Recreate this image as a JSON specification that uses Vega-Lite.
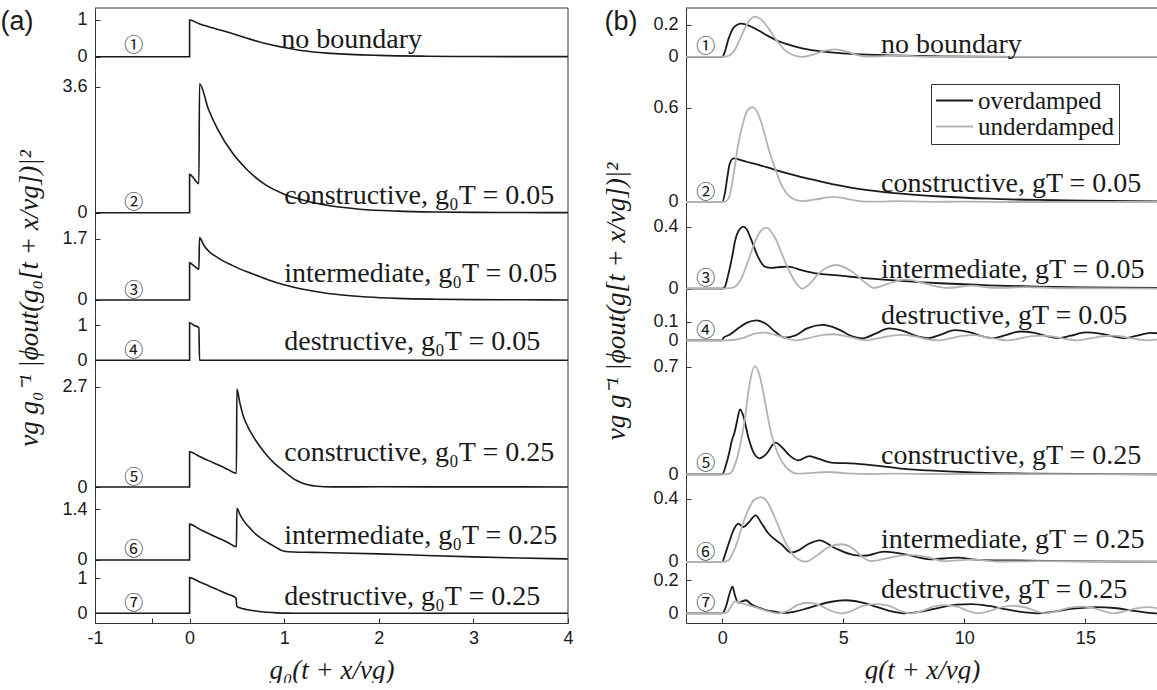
{
  "$schema": "https://vega.github.io/schema/vega-lite/v6.json",
  "background": "white",
  "padding": {"left": 0, "top": 7, "right": 0, "bottom": 0},
  "datasets": {
    "a": [
      {"s":1,"x":-1,"y":0},{"s":1,"x":0,"y":0},{"s":1,"x":0,"y":1},{"s":1,"x":0.1,"y":0.9},{"s":1,"x":0.25,"y":0.78},{"s":1,"x":0.45,"y":0.63},{"s":1,"x":0.6,"y":0.51},{"s":1,"x":0.8,"y":0.36},{"s":1,"x":1,"y":0.25},{"s":1,"x":1.2,"y":0.16},{"s":1,"x":1.5,"y":0.09},{"s":1,"x":2,"y":0.035},{"s":1,"x":2.5,"y":0.013},{"s":1,"x":3,"y":0.005},{"s":1,"x":4,"y":0.001},
      {"s":2,"x":-1,"y":0},{"s":2,"x":0,"y":0},{"s":2,"x":0,"y":1.1},{"s":2,"x":0.05,"y":0.96},{"s":2,"x":0.098,"y":0.83},{"s":2,"x":0.105,"y":3.68},{"s":2,"x":0.2,"y":2.95},{"s":2,"x":0.3,"y":2.37},{"s":2,"x":0.45,"y":1.72},{"s":2,"x":0.6,"y":1.25},{"s":2,"x":0.8,"y":0.8},{"s":2,"x":1,"y":0.53},{"s":2,"x":1.2,"y":0.36},{"s":2,"x":1.5,"y":0.19},{"s":2,"x":1.8,"y":0.1},{"s":2,"x":2.2,"y":0.045},{"s":2,"x":2.6,"y":0.02},{"s":2,"x":3,"y":0.009},{"s":2,"x":3.5,"y":0.004},{"s":2,"x":4,"y":0.002},
      {"s":3,"x":-1,"y":0},{"s":3,"x":0,"y":0},{"s":3,"x":0,"y":1.03},{"s":3,"x":0.05,"y":0.94},{"s":3,"x":0.098,"y":0.85},{"s":3,"x":0.105,"y":1.73},{"s":3,"x":0.15,"y":1.52},{"s":3,"x":0.2,"y":1.36},{"s":3,"x":0.3,"y":1.17},{"s":3,"x":0.45,"y":0.96},{"s":3,"x":0.65,"y":0.74},{"s":3,"x":0.82,"y":0.57},{"s":3,"x":1,"y":0.42},{"s":3,"x":1.17,"y":0.31},{"s":3,"x":1.35,"y":0.23},{"s":3,"x":1.52,"y":0.165},{"s":3,"x":1.875,"y":0.085},{"s":3,"x":2.2,"y":0.045},{"s":3,"x":2.6,"y":0.022},{"s":3,"x":3,"y":0.011},{"s":3,"x":3.5,"y":0.005},{"s":3,"x":4,"y":0.002},
      {"s":4,"x":-1,"y":0},{"s":4,"x":0,"y":0},{"s":4,"x":0,"y":1.08},{"s":4,"x":0.05,"y":1.0},{"s":4,"x":0.098,"y":0.94},{"s":4,"x":0.105,"y":0},{"s":4,"x":4,"y":0},
      {"s":5,"x":-1,"y":0},{"s":5,"x":0,"y":0},{"s":5,"x":0,"y":0.95},{"s":5,"x":0.1,"y":0.83},{"s":5,"x":0.2,"y":0.71},{"s":5,"x":0.3,"y":0.6},{"s":5,"x":0.4,"y":0.48},{"s":5,"x":0.495,"y":0.37},{"s":5,"x":0.5,"y":2.64},{"s":5,"x":0.53,"y":2.28},{"s":5,"x":0.573,"y":1.87},{"s":5,"x":0.62,"y":1.6},{"s":5,"x":0.68,"y":1.33},{"s":5,"x":0.75,"y":1.07},{"s":5,"x":0.82,"y":0.84},{"s":5,"x":0.9,"y":0.63},{"s":5,"x":0.96,"y":0.5},{"s":5,"x":1,"y":0.42},{"s":5,"x":1.05,"y":0.31},{"s":5,"x":1.1,"y":0.22},{"s":5,"x":1.17,"y":0.13},{"s":5,"x":1.25,"y":0.06},{"s":5,"x":1.35,"y":0.02},{"s":5,"x":1.5,"y":0.003},{"s":5,"x":2,"y":0.005},{"s":5,"x":3,"y":0.003},{"s":5,"x":4,"y":0.002},
      {"s":6,"x":-1,"y":0},{"s":6,"x":0,"y":0},{"s":6,"x":0,"y":0.99},{"s":6,"x":0.1,"y":0.86},{"s":6,"x":0.2,"y":0.73},{"s":6,"x":0.3,"y":0.61},{"s":6,"x":0.4,"y":0.49},{"s":6,"x":0.495,"y":0.37},{"s":6,"x":0.5,"y":1.43},{"s":6,"x":0.53,"y":1.27},{"s":6,"x":0.573,"y":1.08},{"s":6,"x":0.62,"y":0.93},{"s":6,"x":0.68,"y":0.76},{"s":6,"x":0.75,"y":0.61},{"s":6,"x":0.82,"y":0.49},{"s":6,"x":0.9,"y":0.37},{"s":6,"x":1,"y":0.24},{"s":6,"x":1.1,"y":0.22},{"s":6,"x":1.3,"y":0.21},{"s":6,"x":1.6,"y":0.195},{"s":6,"x":2,"y":0.17},{"s":6,"x":2.5,"y":0.125},{"s":6,"x":3,"y":0.085},{"s":6,"x":3.5,"y":0.055},{"s":6,"x":4,"y":0.03},
      {"s":7,"x":-1,"y":0},{"s":7,"x":0,"y":0},{"s":7,"x":0,"y":1.02},{"s":7,"x":0.1,"y":0.9},{"s":7,"x":0.2,"y":0.79},{"s":7,"x":0.3,"y":0.67},{"s":7,"x":0.4,"y":0.55},{"s":7,"x":0.49,"y":0.44},{"s":7,"x":0.5,"y":0.2},{"s":7,"x":0.53,"y":0.16},{"s":7,"x":0.6,"y":0.11},{"s":7,"x":0.7,"y":0.065},{"s":7,"x":0.82,"y":0.03},{"s":7,"x":0.92,"y":0.012},{"s":7,"x":1,"y":0.004},{"s":7,"x":1.2,"y":0},{"s":7,"x":4,"y":0}
    ],
    "b": [
      {"s":1,"c":"overdamped","x":-1.5,"y":0},{"s":1,"c":"overdamped","x":0,"y":0},{"s":1,"c":"overdamped","x":0.1,"y":0.03},{"s":1,"c":"overdamped","x":0.25,"y":0.11},{"s":1,"c":"overdamped","x":0.45,"y":0.18},{"s":1,"c":"overdamped","x":0.6,"y":0.2},{"s":1,"c":"overdamped","x":0.8,"y":0.208},{"s":1,"c":"overdamped","x":1.1,"y":0.196},{"s":1,"c":"overdamped","x":1.5,"y":0.165},{"s":1,"c":"overdamped","x":1.9,"y":0.13},{"s":1,"c":"overdamped","x":2.3,"y":0.1},{"s":1,"c":"overdamped","x":2.8,"y":0.074},{"s":1,"c":"overdamped","x":3.3,"y":0.054},{"s":1,"c":"overdamped","x":4,"y":0.037},{"s":1,"c":"overdamped","x":4.6,"y":0.027},{"s":1,"c":"overdamped","x":5.5,"y":0.018},{"s":1,"c":"overdamped","x":7,"y":0.01},{"s":1,"c":"overdamped","x":9,"y":0.004},{"s":1,"c":"overdamped","x":12,"y":0.001},{"s":1,"c":"overdamped","x":18,"y":0},
      {"s":1,"c":"underdamped","x":-1.5,"y":0},{"s":1,"c":"underdamped","x":0,"y":0},{"s":1,"c":"underdamped","x":0.3,"y":0.01},{"s":1,"c":"underdamped","x":0.5,"y":0.04},{"s":1,"c":"underdamped","x":0.7,"y":0.1},{"s":1,"c":"underdamped","x":0.9,"y":0.17},{"s":1,"c":"underdamped","x":1.1,"y":0.225},{"s":1,"c":"underdamped","x":1.35,"y":0.252},{"s":1,"c":"underdamped","x":1.6,"y":0.235},{"s":1,"c":"underdamped","x":1.9,"y":0.18},{"s":1,"c":"underdamped","x":2.24,"y":0.104},{"s":1,"c":"underdamped","x":2.6,"y":0.04},{"s":1,"c":"underdamped","x":3,"y":0.008},{"s":1,"c":"underdamped","x":3.3,"y":0},{"s":1,"c":"underdamped","x":3.7,"y":0.012},{"s":1,"c":"underdamped","x":4.2,"y":0.038},{"s":1,"c":"underdamped","x":4.6,"y":0.048},{"s":1,"c":"underdamped","x":5,"y":0.04},{"s":1,"c":"underdamped","x":5.5,"y":0.015},{"s":1,"c":"underdamped","x":5.9,"y":0.002},{"s":1,"c":"underdamped","x":6.5,"y":0.004},{"s":1,"c":"underdamped","x":7.2,"y":0.01},{"s":1,"c":"underdamped","x":8,"y":0.004},{"s":1,"c":"underdamped","x":8.7,"y":0},{"s":1,"c":"underdamped","x":9.5,"y":0.003},{"s":1,"c":"underdamped","x":10.5,"y":0.002},{"s":1,"c":"underdamped","x":12,"y":0},{"s":1,"c":"underdamped","x":18,"y":0},
      {"s":2,"c":"overdamped","x":-1.5,"y":0},{"s":2,"c":"overdamped","x":0,"y":0},{"s":2,"c":"overdamped","x":0.1,"y":0.05},{"s":2,"c":"overdamped","x":0.2,"y":0.15},{"s":2,"c":"overdamped","x":0.3,"y":0.24},{"s":2,"c":"overdamped","x":0.46,"y":0.278},{"s":2,"c":"overdamped","x":0.7,"y":0.27},{"s":2,"c":"overdamped","x":1,"y":0.256},{"s":2,"c":"overdamped","x":1.5,"y":0.236},{"s":2,"c":"overdamped","x":1.9,"y":0.218},{"s":2,"c":"overdamped","x":2.5,"y":0.19},{"s":2,"c":"overdamped","x":3.27,"y":0.159},{"s":2,"c":"overdamped","x":4,"y":0.133},{"s":2,"c":"overdamped","x":4.6,"y":0.112},{"s":2,"c":"overdamped","x":5.3,"y":0.092},{"s":2,"c":"overdamped","x":6,"y":0.076},{"s":2,"c":"overdamped","x":7.4,"y":0.053},{"s":2,"c":"overdamped","x":9,"y":0.035},{"s":2,"c":"overdamped","x":11,"y":0.021},{"s":2,"c":"overdamped","x":13,"y":0.013},{"s":2,"c":"overdamped","x":15,"y":0.008},{"s":2,"c":"overdamped","x":18,"y":0.004},
      {"s":2,"c":"underdamped","x":-1.5,"y":0},{"s":2,"c":"underdamped","x":0,"y":0},{"s":2,"c":"underdamped","x":0.15,"y":0.005},{"s":2,"c":"underdamped","x":0.3,"y":0.04},{"s":2,"c":"underdamped","x":0.5,"y":0.21},{"s":2,"c":"underdamped","x":0.66,"y":0.37},{"s":2,"c":"underdamped","x":0.85,"y":0.5},{"s":2,"c":"underdamped","x":1.05,"y":0.585},{"s":2,"c":"underdamped","x":1.24,"y":0.604},{"s":2,"c":"underdamped","x":1.45,"y":0.57},{"s":2,"c":"underdamped","x":1.7,"y":0.46},{"s":2,"c":"underdamped","x":1.9,"y":0.345},{"s":2,"c":"underdamped","x":2.17,"y":0.218},{"s":2,"c":"underdamped","x":2.44,"y":0.11},{"s":2,"c":"underdamped","x":2.85,"y":0.027},{"s":2,"c":"underdamped","x":3.27,"y":0.005},{"s":2,"c":"underdamped","x":3.8,"y":0.015},{"s":2,"c":"underdamped","x":4.6,"y":0.032},{"s":2,"c":"underdamped","x":5.3,"y":0.015},{"s":2,"c":"underdamped","x":5.9,"y":0.003},{"s":2,"c":"underdamped","x":6.5,"y":0.003},{"s":2,"c":"underdamped","x":7.2,"y":0.006},{"s":2,"c":"underdamped","x":8.7,"y":0.001},{"s":2,"c":"underdamped","x":10,"y":0.002},{"s":2,"c":"underdamped","x":12,"y":0},{"s":2,"c":"underdamped","x":18,"y":0},
      {"s":3,"c":"overdamped","x":-1.5,"y":0},{"s":3,"c":"overdamped","x":0,"y":0},{"s":3,"c":"overdamped","x":0.1,"y":0.01},{"s":3,"c":"overdamped","x":0.25,"y":0.093},{"s":3,"c":"overdamped","x":0.4,"y":0.2},{"s":3,"c":"overdamped","x":0.53,"y":0.31},{"s":3,"c":"overdamped","x":0.7,"y":0.38},{"s":3,"c":"overdamped","x":0.87,"y":0.4},{"s":3,"c":"overdamped","x":1,"y":0.385},{"s":3,"c":"overdamped","x":1.21,"y":0.31},{"s":3,"c":"overdamped","x":1.49,"y":0.2},{"s":3,"c":"overdamped","x":1.76,"y":0.142},{"s":3,"c":"overdamped","x":2.03,"y":0.134},{"s":3,"c":"overdamped","x":2.4,"y":0.14},{"s":3,"c":"overdamped","x":2.72,"y":0.142},{"s":3,"c":"overdamped","x":3.27,"y":0.12},{"s":3,"c":"overdamped","x":3.95,"y":0.097},{"s":3,"c":"overdamped","x":4.63,"y":0.088},{"s":3,"c":"overdamped","x":5.3,"y":0.077},{"s":3,"c":"overdamped","x":6,"y":0.067},{"s":3,"c":"overdamped","x":7.37,"y":0.05},{"s":3,"c":"overdamped","x":9,"y":0.035},{"s":3,"c":"overdamped","x":11,"y":0.022},{"s":3,"c":"overdamped","x":13,"y":0.014},{"s":3,"c":"overdamped","x":15,"y":0.009},{"s":3,"c":"overdamped","x":18,"y":0.005},
      {"s":3,"c":"underdamped","x":-1.5,"y":0},{"s":3,"c":"underdamped","x":0,"y":0},{"s":3,"c":"underdamped","x":0.4,"y":0.005},{"s":3,"c":"underdamped","x":0.8,"y":0.07},{"s":3,"c":"underdamped","x":1,"y":0.15},{"s":3,"c":"underdamped","x":1.21,"y":0.243},{"s":3,"c":"underdamped","x":1.49,"y":0.35},{"s":3,"c":"underdamped","x":1.83,"y":0.394},{"s":3,"c":"underdamped","x":2.17,"y":0.33},{"s":3,"c":"underdamped","x":2.58,"y":0.18},{"s":3,"c":"underdamped","x":2.99,"y":0.05},{"s":3,"c":"underdamped","x":3.3,"y":0},{"s":3,"c":"underdamped","x":3.6,"y":0.03},{"s":3,"c":"underdamped","x":3.95,"y":0.093},{"s":3,"c":"underdamped","x":4.3,"y":0.135},{"s":3,"c":"underdamped","x":4.7,"y":0.153},{"s":3,"c":"underdamped","x":5.32,"y":0.114},{"s":3,"c":"underdamped","x":6,"y":0.028},{"s":3,"c":"underdamped","x":6.25,"y":0.005},{"s":3,"c":"underdamped","x":7,"y":0.04},{"s":3,"c":"underdamped","x":7.6,"y":0.06},{"s":3,"c":"underdamped","x":8.2,"y":0.04},{"s":3,"c":"underdamped","x":9,"y":0.01},{"s":3,"c":"underdamped","x":9.3,"y":0.005},{"s":3,"c":"underdamped","x":10.3,"y":0.02},{"s":3,"c":"underdamped","x":11.3,"y":0.005},{"s":3,"c":"underdamped","x":12.5,"y":0.01},{"s":3,"c":"underdamped","x":14,"y":0.003},{"s":3,"c":"underdamped","x":18,"y":0.001},
      {"s":4,"c":"overdamped","x":-1.5,"y":0},{"s":4,"c":"overdamped","x":0,"y":0},{"s":4,"c":"overdamped","x":0.05,"y":0.014},{"s":4,"c":"overdamped","x":0.3,"y":0.03},{"s":4,"c":"overdamped","x":0.7,"y":0.07},{"s":4,"c":"overdamped","x":1,"y":0.095},{"s":4,"c":"overdamped","x":1.42,"y":0.109},{"s":4,"c":"overdamped","x":1.8,"y":0.09},{"s":4,"c":"overdamped","x":2.2,"y":0.045},{"s":4,"c":"overdamped","x":2.58,"y":0.014},{"s":4,"c":"overdamped","x":3,"y":0.025},{"s":4,"c":"overdamped","x":3.5,"y":0.065},{"s":4,"c":"overdamped","x":4.16,"y":0.084},{"s":4,"c":"overdamped","x":4.8,"y":0.06},{"s":4,"c":"overdamped","x":5.4,"y":0.02},{"s":4,"c":"overdamped","x":5.8,"y":0.011},{"s":4,"c":"overdamped","x":6.3,"y":0.035},{"s":4,"c":"overdamped","x":6.9,"y":0.065},{"s":4,"c":"overdamped","x":7.5,"y":0.05},{"s":4,"c":"overdamped","x":8.1,"y":0.02},{"s":4,"c":"overdamped","x":8.5,"y":0.012},{"s":4,"c":"overdamped","x":9,"y":0.03},{"s":4,"c":"overdamped","x":9.6,"y":0.055},{"s":4,"c":"overdamped","x":10.2,"y":0.045},{"s":4,"c":"overdamped","x":10.8,"y":0.02},{"s":4,"c":"overdamped","x":11.2,"y":0.012},{"s":4,"c":"overdamped","x":11.7,"y":0.028},{"s":4,"c":"overdamped","x":12.3,"y":0.048},{"s":4,"c":"overdamped","x":12.9,"y":0.04},{"s":4,"c":"overdamped","x":13.5,"y":0.02},{"s":4,"c":"overdamped","x":13.9,"y":0.012},{"s":4,"c":"overdamped","x":14.4,"y":0.025},{"s":4,"c":"overdamped","x":15,"y":0.043},{"s":4,"c":"overdamped","x":15.6,"y":0.037},{"s":4,"c":"overdamped","x":16.2,"y":0.02},{"s":4,"c":"overdamped","x":16.6,"y":0.012},{"s":4,"c":"overdamped","x":17.1,"y":0.024},{"s":4,"c":"overdamped","x":17.7,"y":0.04},{"s":4,"c":"overdamped","x":18,"y":0.038},
      {"s":4,"c":"underdamped","x":-1.5,"y":0},{"s":4,"c":"underdamped","x":0,"y":0},{"s":4,"c":"underdamped","x":0.5,"y":0.003},{"s":4,"c":"underdamped","x":0.9,"y":0.015},{"s":4,"c":"underdamped","x":1.3,"y":0.035},{"s":4,"c":"underdamped","x":1.76,"y":0.042},{"s":4,"c":"underdamped","x":2.3,"y":0.025},{"s":4,"c":"underdamped","x":2.8,"y":0.005},{"s":4,"c":"underdamped","x":3.06,"y":0},{"s":4,"c":"underdamped","x":3.5,"y":0.01},{"s":4,"c":"underdamped","x":4.1,"y":0.028},{"s":4,"c":"underdamped","x":4.63,"y":0.033},{"s":4,"c":"underdamped","x":5.2,"y":0.02},{"s":4,"c":"underdamped","x":5.7,"y":0.004},{"s":4,"c":"underdamped","x":6,"y":0},{"s":4,"c":"underdamped","x":6.4,"y":0.01},{"s":4,"c":"underdamped","x":7,"y":0.026},{"s":4,"c":"underdamped","x":7.5,"y":0.03},{"s":4,"c":"underdamped","x":8,"y":0.02},{"s":4,"c":"underdamped","x":8.6,"y":0.003},{"s":4,"c":"underdamped","x":8.9,"y":0},{"s":4,"c":"underdamped","x":9.4,"y":0.01},{"s":4,"c":"underdamped","x":9.9,"y":0.024},{"s":4,"c":"underdamped","x":10.4,"y":0.028},{"s":4,"c":"underdamped","x":10.9,"y":0.018},{"s":4,"c":"underdamped","x":11.5,"y":0.003},{"s":4,"c":"underdamped","x":11.8,"y":0},{"s":4,"c":"underdamped","x":12.3,"y":0.01},{"s":4,"c":"underdamped","x":12.8,"y":0.023},{"s":4,"c":"underdamped","x":13.3,"y":0.026},{"s":4,"c":"underdamped","x":13.8,"y":0.017},{"s":4,"c":"underdamped","x":14.4,"y":0.003},{"s":4,"c":"underdamped","x":14.7,"y":0},{"s":4,"c":"underdamped","x":15.2,"y":0.01},{"s":4,"c":"underdamped","x":15.7,"y":0.022},{"s":4,"c":"underdamped","x":16.2,"y":0.025},{"s":4,"c":"underdamped","x":16.7,"y":0.016},{"s":4,"c":"underdamped","x":17.3,"y":0.003},{"s":4,"c":"underdamped","x":17.6,"y":0},{"s":4,"c":"underdamped","x":18,"y":0.006},
      {"s":5,"c":"overdamped","x":-1.5,"y":0},{"s":5,"c":"overdamped","x":0,"y":0},{"s":5,"c":"overdamped","x":0.15,"y":0.06},{"s":5,"c":"overdamped","x":0.3,"y":0.15},{"s":5,"c":"overdamped","x":0.39,"y":0.217},{"s":5,"c":"overdamped","x":0.5,"y":0.27},{"s":5,"c":"overdamped","x":0.6,"y":0.34},{"s":5,"c":"overdamped","x":0.73,"y":0.424},{"s":5,"c":"overdamped","x":0.85,"y":0.39},{"s":5,"c":"overdamped","x":1.08,"y":0.239},{"s":5,"c":"overdamped","x":1.3,"y":0.14},{"s":5,"c":"overdamped","x":1.55,"y":0.104},{"s":5,"c":"overdamped","x":1.8,"y":0.13},{"s":5,"c":"overdamped","x":2.2,"y":0.206},{"s":5,"c":"overdamped","x":2.5,"y":0.17},{"s":5,"c":"overdamped","x":2.8,"y":0.12},{"s":5,"c":"overdamped","x":3.13,"y":0.091},{"s":5,"c":"overdamped","x":3.6,"y":0.119},{"s":5,"c":"overdamped","x":4,"y":0.1},{"s":5,"c":"overdamped","x":4.5,"y":0.076},{"s":5,"c":"overdamped","x":5.5,"y":0.07},{"s":5,"c":"overdamped","x":6.55,"y":0.054},{"s":5,"c":"overdamped","x":7.37,"y":0.037},{"s":5,"c":"overdamped","x":8.5,"y":0.025},{"s":5,"c":"overdamped","x":10.6,"y":0.01},{"s":5,"c":"overdamped","x":13,"y":0.004},{"s":5,"c":"overdamped","x":18,"y":0},
      {"s":5,"c":"underdamped","x":-1.5,"y":0},{"s":5,"c":"underdamped","x":0,"y":0},{"s":5,"c":"underdamped","x":0.3,"y":0.005},{"s":5,"c":"underdamped","x":0.53,"y":0.065},{"s":5,"c":"underdamped","x":0.8,"y":0.24},{"s":5,"c":"underdamped","x":0.94,"y":0.37},{"s":5,"c":"underdamped","x":1.08,"y":0.543},{"s":5,"c":"underdamped","x":1.35,"y":0.706},{"s":5,"c":"underdamped","x":1.55,"y":0.64},{"s":5,"c":"underdamped","x":1.76,"y":0.478},{"s":5,"c":"underdamped","x":2.03,"y":0.26},{"s":5,"c":"underdamped","x":2.31,"y":0.13},{"s":5,"c":"underdamped","x":2.72,"y":0.033},{"s":5,"c":"underdamped","x":3.13,"y":0.004},{"s":5,"c":"underdamped","x":3.6,"y":0.008},{"s":5,"c":"underdamped","x":4.36,"y":0.015},{"s":5,"c":"underdamped","x":5.2,"y":0.006},{"s":5,"c":"underdamped","x":6,"y":0.002},{"s":5,"c":"underdamped","x":7,"y":0.004},{"s":5,"c":"underdamped","x":8.5,"y":0.002},{"s":5,"c":"underdamped","x":18,"y":0},
      {"s":6,"c":"overdamped","x":-1.5,"y":0},{"s":6,"c":"overdamped","x":0,"y":0},{"s":6,"c":"overdamped","x":0.1,"y":0.04},{"s":6,"c":"overdamped","x":0.25,"y":0.11},{"s":6,"c":"overdamped","x":0.46,"y":0.2},{"s":6,"c":"overdamped","x":0.66,"y":0.242},{"s":6,"c":"overdamped","x":0.87,"y":0.221},{"s":6,"c":"overdamped","x":1.08,"y":0.248},{"s":6,"c":"overdamped","x":1.38,"y":0.295},{"s":6,"c":"overdamped","x":1.6,"y":0.25},{"s":6,"c":"overdamped","x":1.88,"y":0.185},{"s":6,"c":"overdamped","x":2.44,"y":0.112},{"s":6,"c":"overdamped","x":2.85,"y":0.059},{"s":6,"c":"overdamped","x":3.1,"y":0.07},{"s":6,"c":"overdamped","x":3.54,"y":0.112},{"s":6,"c":"overdamped","x":4.02,"y":0.137},{"s":6,"c":"overdamped","x":4.63,"y":0.09},{"s":6,"c":"overdamped","x":5.45,"y":0.044},{"s":6,"c":"overdamped","x":5.9,"y":0.04},{"s":6,"c":"overdamped","x":6.69,"y":0.065},{"s":6,"c":"overdamped","x":7.5,"y":0.05},{"s":6,"c":"overdamped","x":8.6,"y":0.017},{"s":6,"c":"overdamped","x":9.7,"y":0.027},{"s":6,"c":"overdamped","x":10.66,"y":0.012},{"s":6,"c":"overdamped","x":12,"y":0.01},{"s":6,"c":"overdamped","x":14,"y":0.006},{"s":6,"c":"overdamped","x":18,"y":0.002},
      {"s":6,"c":"underdamped","x":-1.5,"y":0},{"s":6,"c":"underdamped","x":0,"y":0},{"s":6,"c":"underdamped","x":0.25,"y":0.01},{"s":6,"c":"underdamped","x":0.53,"y":0.09},{"s":6,"c":"underdamped","x":0.94,"y":0.28},{"s":6,"c":"underdamped","x":1.3,"y":0.39},{"s":6,"c":"underdamped","x":1.6,"y":0.41},{"s":6,"c":"underdamped","x":1.9,"y":0.37},{"s":6,"c":"underdamped","x":2.17,"y":0.28},{"s":6,"c":"underdamped","x":2.72,"y":0.09},{"s":6,"c":"underdamped","x":3.1,"y":0.02},{"s":6,"c":"underdamped","x":3.43,"y":0.002},{"s":6,"c":"underdamped","x":3.9,"y":0.04},{"s":6,"c":"underdamped","x":4.4,"y":0.095},{"s":6,"c":"underdamped","x":4.9,"y":0.112},{"s":6,"c":"underdamped","x":5.4,"y":0.085},{"s":6,"c":"underdamped","x":5.8,"y":0.03},{"s":6,"c":"underdamped","x":6.14,"y":0.005},{"s":6,"c":"underdamped","x":7,"y":0.03},{"s":6,"c":"underdamped","x":7.7,"y":0.045},{"s":6,"c":"underdamped","x":8.5,"y":0.03},{"s":6,"c":"underdamped","x":9.2,"y":0.005},{"s":6,"c":"underdamped","x":10.3,"y":0.015},{"s":6,"c":"underdamped","x":11.5,"y":0.003},{"s":6,"c":"underdamped","x":13,"y":0.006},{"s":6,"c":"underdamped","x":18,"y":0.001},
      {"s":7,"c":"overdamped","x":-1.5,"y":0},{"s":7,"c":"overdamped","x":0,"y":0},{"s":7,"c":"overdamped","x":0.1,"y":0.02},{"s":7,"c":"overdamped","x":0.18,"y":0.055},{"s":7,"c":"overdamped","x":0.3,"y":0.12},{"s":7,"c":"overdamped","x":0.42,"y":0.161},{"s":7,"c":"overdamped","x":0.52,"y":0.11},{"s":7,"c":"overdamped","x":0.66,"y":0.064},{"s":7,"c":"overdamped","x":0.8,"y":0.072},{"s":7,"c":"overdamped","x":0.97,"y":0.079},{"s":7,"c":"overdamped","x":1.2,"y":0.055},{"s":7,"c":"overdamped","x":1.49,"y":0.034},{"s":7,"c":"overdamped","x":1.8,"y":0.02},{"s":7,"c":"overdamped","x":2.17,"y":0.01},{"s":7,"c":"overdamped","x":2.58,"y":0.002},{"s":7,"c":"overdamped","x":3,"y":0.01},{"s":7,"c":"overdamped","x":3.5,"y":0.03},{"s":7,"c":"overdamped","x":3.95,"y":0.05},{"s":7,"c":"overdamped","x":4.5,"y":0.07},{"s":7,"c":"overdamped","x":5.1,"y":0.079},{"s":7,"c":"overdamped","x":5.7,"y":0.068},{"s":7,"c":"overdamped","x":6.27,"y":0.044},{"s":7,"c":"overdamped","x":6.9,"y":0.015},{"s":7,"c":"overdamped","x":7.5,"y":0},{"s":7,"c":"overdamped","x":8.2,"y":0.01},{"s":7,"c":"overdamped","x":9,"y":0.035},{"s":7,"c":"overdamped","x":9.7,"y":0.052},{"s":7,"c":"overdamped","x":10.3,"y":0.056},{"s":7,"c":"overdamped","x":11,"y":0.045},{"s":7,"c":"overdamped","x":11.8,"y":0.022},{"s":7,"c":"overdamped","x":12.5,"y":0.005},{"s":7,"c":"overdamped","x":13,"y":0},{"s":7,"c":"overdamped","x":13.7,"y":0.01},{"s":7,"c":"overdamped","x":14.5,"y":0.028},{"s":7,"c":"overdamped","x":15.45,"y":0.038},{"s":7,"c":"overdamped","x":16.2,"y":0.032},{"s":7,"c":"overdamped","x":17,"y":0.015},{"s":7,"c":"overdamped","x":17.9,"y":0},{"s":7,"c":"overdamped","x":18,"y":0},
      {"s":7,"c":"underdamped","x":-1.5,"y":0},{"s":7,"c":"underdamped","x":0,"y":0},{"s":7,"c":"underdamped","x":0.2,"y":0.005},{"s":7,"c":"underdamped","x":0.35,"y":0.04},{"s":7,"c":"underdamped","x":0.53,"y":0.072},{"s":7,"c":"underdamped","x":0.75,"y":0.063},{"s":7,"c":"underdamped","x":1.08,"y":0.05},{"s":7,"c":"underdamped","x":1.63,"y":0.024},{"s":7,"c":"underdamped","x":2,"y":0.008},{"s":7,"c":"underdamped","x":2.31,"y":0},{"s":7,"c":"underdamped","x":2.7,"y":0.015},{"s":7,"c":"underdamped","x":3.1,"y":0.05},{"s":7,"c":"underdamped","x":3.54,"y":0.064},{"s":7,"c":"underdamped","x":4,"y":0.05},{"s":7,"c":"underdamped","x":4.5,"y":0.015},{"s":7,"c":"underdamped","x":4.9,"y":0},{"s":7,"c":"underdamped","x":5.3,"y":0.012},{"s":7,"c":"underdamped","x":5.8,"y":0.045},{"s":7,"c":"underdamped","x":6.35,"y":0.056},{"s":7,"c":"underdamped","x":6.9,"y":0.045},{"s":7,"c":"underdamped","x":7.4,"y":0.012},{"s":7,"c":"underdamped","x":7.75,"y":0},{"s":7,"c":"underdamped","x":8.2,"y":0.012},{"s":7,"c":"underdamped","x":8.7,"y":0.04},{"s":7,"c":"underdamped","x":9.2,"y":0.05},{"s":7,"c":"underdamped","x":9.7,"y":0.04},{"s":7,"c":"underdamped","x":10.2,"y":0.012},{"s":7,"c":"underdamped","x":10.55,"y":0},{"s":7,"c":"underdamped","x":11,"y":0.012},{"s":7,"c":"underdamped","x":11.5,"y":0.036},{"s":7,"c":"underdamped","x":12,"y":0.045},{"s":7,"c":"underdamped","x":12.5,"y":0.036},{"s":7,"c":"underdamped","x":13,"y":0.012},{"s":7,"c":"underdamped","x":13.35,"y":0},{"s":7,"c":"underdamped","x":13.8,"y":0.012},{"s":7,"c":"underdamped","x":14.3,"y":0.033},{"s":7,"c":"underdamped","x":14.8,"y":0.041},{"s":7,"c":"underdamped","x":15.3,"y":0.033},{"s":7,"c":"underdamped","x":15.8,"y":0.012},{"s":7,"c":"underdamped","x":16.15,"y":0},{"s":7,"c":"underdamped","x":16.6,"y":0.011},{"s":7,"c":"underdamped","x":17.1,"y":0.03},{"s":7,"c":"underdamped","x":17.6,"y":0.038},{"s":7,"c":"underdamped","x":18,"y":0.03}
    ]
  },
  "config": {
    "view": {"stroke": null},
    "axis": {
      "domainColor": "#333333", "domainWidth": 1, "tickColor": "#333333", "tickWidth": 1, "tickSize": -5,
      "labelFont": "Liberation Sans", "labelFontSize": 18, "labelColor": "#1a1a1a", "labelOverlap": false, "labelFlush": false,
      "grid": false,
      "titleFont": "Liberation Serif", "titleFontSize": 27, "titleFontStyle": "italic", "titleFontWeight": "normal", "titleColor": "#1a1a1a"
    },
    "axisY": {"labelPadding": 13},
    "axisX": {"labelPadding": 11, "titlePadding": 10},
    "legend": {
      "labelFont": "Liberation Serif", "labelFontSize": 25, "labelColor": "#1a1a1a",
      "symbolType": "stroke", "symbolSize": 1369, "symbolStrokeWidth": 1.8,
      "strokeColor": "#333333", "fillColor": "white", "padding": 4, "rowPadding": 0, "labelOffset": 4, "clipHeight": 25
    },
    "text": {"color": "#1a1a1a"}
  },
  "spacing": 27,
  "hconcat": [
    {
      "bounds": "flush",
      "spacing": 0,
      "vconcat": [
        {
          "width": 473, "height": 63, "data": {"values": [{}]},
          "layer": [
            {"data": {"name": "a"}, "transform": [{"filter": "datum.s == 1"}],
             "mark": {"type": "line", "color": "#1a1a1a", "strokeWidth": 1.6, "interpolate": "monotone"},
             "encoding": {
               "x": {"field": "x", "type": "quantitative", "scale": {"domain": [-1, 4], "nice": false, "zero": false}, "axis": null},
               "y": {"field": "y", "type": "quantitative", "scale": {"domain": [-0.39, 1.327], "nice": false, "zero": false}, "axis": {"values": [0, 1], "format": ".2~g", "title": null}},
               "order": {"value": null}}},
            {"mark": {"type": "text", "font": "Noto Sans CJK JP", "fontSize": 19, "baseline": "middle"},
             "encoding": {"x": {"datum": -0.59, "axis": null}, "y": {"datum": 0.29}, "text": {"value": "①"}}},
            {"mark": {"type": "text", "font": "Liberation Serif", "fontSize": 28, "align": "left", "baseline": "alphabetic"},
             "encoding": {"x": {"datum": 0.97, "axis": null}, "y": {"datum": 0.245}, "text": {"value": "no boundary"}}},
            {"mark": {"type": "text", "font": "Liberation Sans", "fontSize": 27, "align": "left", "baseline": "middle"},
             "encoding": {"x": {"datum": -2.0, "axis": null}, "y": {"datum": 0.945}, "text": {"value": "(a)"}}},
            {"mark": {"type": "rule", "color": "#333333", "strokeWidth": 1}, "encoding": {"x": {"datum": 4, "axis": null}}},
            {"mark": {"type": "rule", "color": "#333333", "strokeWidth": 1}, "encoding": {"y": {"datum": 1.327}}}
          ]
        },
        {
          "width": 473, "height": 155, "data": {"values": [{}]},
          "layer": [
            {"data": {"name": "a"}, "transform": [{"filter": "datum.s == 2"}],
             "mark": {"type": "line", "color": "#1a1a1a", "strokeWidth": 1.6, "interpolate": "monotone"},
             "encoding": {
               "x": {"field": "x", "type": "quantitative", "scale": {"domain": [-1, 4], "nice": false, "zero": false}, "axis": null},
               "y": {"field": "y", "type": "quantitative", "scale": {"domain": [-0.38, 4.049], "nice": false, "zero": false}, "axis": {"values": [0, 3.6], "format": ".2~g", "title": null}},
               "order": {"value": null}}},
            {"mark": {"type": "text", "font": "Noto Sans CJK JP", "fontSize": 19, "baseline": "middle"},
             "encoding": {"x": {"datum": -0.59, "axis": null}, "y": {"datum": 0.286}, "text": {"value": "②"}}},
            {"mark": {"type": "text", "font": "Liberation Serif", "fontSize": 28, "align": "left", "baseline": "alphabetic"},
             "encoding": {"x": {"datum": 1, "axis": null}, "y": {"datum": 0.24}, "text": {"value": "constructive, g₀T = 0.05"}}},
            {"mark": {"type": "rule", "color": "#333333", "strokeWidth": 1}, "encoding": {"x": {"datum": 4, "axis": null}}}
          ]
        },
        {
          "width": 473, "height": 87, "data": {"values": [{}]},
          "layer": [
            {"data": {"name": "a"}, "transform": [{"filter": "datum.s == 3"}],
             "mark": {"type": "line", "color": "#1a1a1a", "strokeWidth": 1.6, "interpolate": "monotone"},
             "encoding": {
               "x": {"field": "x", "type": "quantitative", "scale": {"domain": [-1, 4], "nice": false, "zero": false}, "axis": null},
               "y": {"field": "y", "type": "quantitative", "scale": {"domain": [-0.3605, 2.052], "nice": false, "zero": false}, "axis": {"values": [0, 1.7], "format": ".2~g", "title": null}},
               "order": {"value": null}}},
            {"mark": {"type": "text", "font": "Noto Sans CJK JP", "fontSize": 19, "baseline": "middle"},
             "encoding": {"x": {"datum": -0.59, "axis": null}, "y": {"datum": 0.25}, "text": {"value": "③"}}},
            {"mark": {"type": "text", "font": "Liberation Serif", "fontSize": 28, "align": "left", "baseline": "alphabetic"},
             "encoding": {"x": {"datum": 1, "axis": null}, "y": {"datum": 0.5}, "text": {"value": "intermediate, g₀T = 0.05"}}},
            {"mark": {"type": "rule", "color": "#333333", "strokeWidth": 1}, "encoding": {"x": {"datum": 4, "axis": null}}}
          ]
        },
        {
          "width": 473, "height": 60, "data": {"values": [{}]},
          "layer": [
            {"data": {"name": "a"}, "transform": [{"filter": "datum.s == 4"}],
             "mark": {"type": "line", "color": "#1a1a1a", "strokeWidth": 1.6, "interpolate": "monotone"},
             "encoding": {
               "x": {"field": "x", "type": "quantitative", "scale": {"domain": [-1, 4], "nice": false, "zero": false}, "axis": null},
               "y": {"field": "y", "type": "quantitative", "scale": {"domain": [-0.365, 1.359], "nice": false, "zero": false}, "axis": {"values": [0, 1], "format": ".2~g", "title": "vg g₀⁻¹ |ϕout(g₀[t + x/vg])|²", "titleX": -52, "titleY": -15}},
               "order": {"value": null}}},
            {"mark": {"type": "text", "font": "Noto Sans CJK JP", "fontSize": 19, "baseline": "middle"},
             "encoding": {"x": {"datum": -0.59, "axis": null}, "y": {"datum": 0.267}, "text": {"value": "④"}}},
            {"mark": {"type": "text", "font": "Liberation Serif", "fontSize": 28, "align": "left", "baseline": "alphabetic"},
             "encoding": {"x": {"datum": 1, "axis": null}, "y": {"datum": 0.296}, "text": {"value": "destructive, g₀T = 0.05"}}},
            {"mark": {"type": "rule", "color": "#333333", "strokeWidth": 1}, "encoding": {"x": {"datum": 4, "axis": null}}}
          ]
        },
        {
          "width": 473, "height": 125, "data": {"values": [{}]},
          "layer": [
            {"data": {"name": "a"}, "transform": [{"filter": "datum.s == 5"}],
             "mark": {"type": "line", "color": "#1a1a1a", "strokeWidth": 1.6, "interpolate": "monotone"},
             "encoding": {
               "x": {"field": "x", "type": "quantitative", "scale": {"domain": [-1, 4], "nice": false, "zero": false}, "axis": null},
               "y": {"field": "y", "type": "quantitative", "scale": {"domain": [-0.296, 3.069], "nice": false, "zero": false}, "axis": {"values": [0, 2.7], "format": ".2~g", "title": null}},
               "order": {"value": null}}},
            {"mark": {"type": "text", "font": "Noto Sans CJK JP", "fontSize": 19, "baseline": "middle"},
             "encoding": {"x": {"datum": -0.59, "axis": null}, "y": {"datum": 0.25}, "text": {"value": "⑤"}}},
            {"mark": {"type": "text", "font": "Liberation Serif", "fontSize": 28, "align": "left", "baseline": "alphabetic"},
             "encoding": {"x": {"datum": 1, "axis": null}, "y": {"datum": 0.7}, "text": {"value": "constructive, g₀T = 0.25"}}},
            {"mark": {"type": "rule", "color": "#333333", "strokeWidth": 1}, "encoding": {"x": {"datum": 4, "axis": null}}}
          ]
        },
        {
          "width": 473, "height": 71, "data": {"values": [{}]},
          "layer": [
            {"data": {"name": "a"}, "transform": [{"filter": "datum.s == 6"}],
             "mark": {"type": "line", "color": "#1a1a1a", "strokeWidth": 1.6, "interpolate": "monotone"},
             "encoding": {
               "x": {"field": "x", "type": "quantitative", "scale": {"domain": [-1, 4], "nice": false, "zero": false}, "axis": null},
               "y": {"field": "y", "type": "quantitative", "scale": {"domain": [-0.249, 1.713], "nice": false, "zero": false}, "axis": {"values": [0, 1.4], "format": ".2~g", "title": null}},
               "order": {"value": null}}},
            {"mark": {"type": "text", "font": "Noto Sans CJK JP", "fontSize": 19, "baseline": "middle"},
             "encoding": {"x": {"datum": -0.59, "axis": null}, "y": {"datum": 0.268}, "text": {"value": "⑥"}}},
            {"mark": {"type": "text", "font": "Liberation Serif", "fontSize": 28, "align": "left", "baseline": "alphabetic"},
             "encoding": {"x": {"datum": 1, "axis": null}, "y": {"datum": 0.45}, "text": {"value": "intermediate, g₀T = 0.25"}}},
            {"mark": {"type": "rule", "color": "#333333", "strokeWidth": 1}, "encoding": {"x": {"datum": 4, "axis": null}}}
          ]
        },
        {
          "width": 473, "height": 54, "data": {"values": [{}]},
          "layer": [
            {"data": {"name": "a"}, "transform": [{"filter": "datum.s == 7"}],
             "mark": {"type": "line", "color": "#1a1a1a", "strokeWidth": 1.6, "interpolate": "monotone"},
             "encoding": {
               "x": {"field": "x", "type": "quantitative", "scale": {"domain": [-1, 4], "nice": false, "zero": false},
                     "axis": {"values": [-1, -0.4, 0, 1, 2, 3, 4], "labelExpr": "datum.value == -0.4 ? '' : '' + datum.value", "title": "g₀(t + x/vg)"}},
               "y": {"field": "y", "type": "quantitative", "scale": {"domain": [-0.277, 1.266], "nice": false, "zero": false}, "axis": {"values": [0, 1], "format": ".2~g", "title": null}},
               "order": {"value": null}}},
            {"mark": {"type": "text", "font": "Noto Sans CJK JP", "fontSize": 19, "baseline": "middle"},
             "encoding": {"x": {"datum": -0.59}, "y": {"datum": 0.274}, "text": {"value": "⑦"}}},
            {"mark": {"type": "text", "font": "Liberation Serif", "fontSize": 28, "align": "left", "baseline": "alphabetic"},
             "encoding": {"x": {"datum": 1}, "y": {"datum": 0.237}, "text": {"value": "destructive, g₀T = 0.25"}}},
            {"mark": {"type": "rule", "color": "#333333", "strokeWidth": 1}, "encoding": {"x": {"datum": 4}}}
          ]
        }
      ]
    },
    {
      "bounds": "flush",
      "spacing": 0,
      "vconcat": [
        {
          "width": 472, "height": 68, "data": {"values": [{}]},
          "layer": [
            {"data": {"name": "b"}, "transform": [{"filter": "datum.s == 1"}],
             "mark": {"type": "line", "strokeWidth": 1.8, "interpolate": "monotone"},
             "encoding": {
               "x": {"field": "x", "type": "quantitative", "scale": {"domain": [-1.5, 18], "nice": false, "zero": false}, "axis": null},
               "y": {"field": "y", "type": "quantitative", "scale": {"domain": [-0.119, 0.306], "nice": false, "zero": false}, "axis": {"values": [0, 0.2], "format": ".2~g", "title": null}},
               "color": {"field": "c", "type": "nominal", "scale": {"domain": ["overdamped", "underdamped"], "range": ["#1a1a1a", "#b3b3b3"]}, "legend": {"orient": "none", "legendX": 836, "legendY": 76, "title": null}},
               "order": {"value": null}}},
            {"mark": {"type": "text", "font": "Noto Sans CJK JP", "fontSize": 19, "baseline": "middle"},
             "encoding": {"x": {"datum": -0.68, "axis": null}, "y": {"datum": 0.0625}, "text": {"value": "①"}}},
            {"mark": {"type": "text", "font": "Liberation Serif", "fontSize": 28, "align": "left", "baseline": "alphabetic"},
             "encoding": {"x": {"datum": 6.56, "axis": null}, "y": {"datum": 0.023}, "text": {"value": "no boundary"}}},
            {"mark": {"type": "text", "font": "Liberation Sans", "fontSize": 27, "align": "left", "baseline": "middle"},
             "encoding": {"x": {"datum": -4.87, "axis": null}, "y": {"datum": 0.219}, "text": {"value": "(b)"}}},
            {"mark": {"type": "rule", "color": "#333333", "strokeWidth": 1}, "encoding": {"x": {"datum": 18, "axis": null}}},
            {"mark": {"type": "rule", "color": "#333333", "strokeWidth": 1}, "encoding": {"y": {"datum": 0.306}}}
          ]
        },
        {
          "width": 472, "height": 139, "data": {"values": [{}]},
          "layer": [
            {"data": {"name": "b"}, "transform": [{"filter": "datum.s == 2"}],
             "mark": {"type": "line", "strokeWidth": 1.8, "interpolate": "monotone"},
             "encoding": {
               "x": {"field": "x", "type": "quantitative", "scale": {"domain": [-1.5, 18], "nice": false, "zero": false}, "axis": null},
               "y": {"field": "y", "type": "quantitative", "scale": {"domain": [-0.0827, 0.8015], "nice": false, "zero": false}, "axis": {"values": [0, 0.6], "format": ".2~g", "title": null}},
               "color": {"field": "c", "type": "nominal", "scale": {"domain": ["overdamped", "underdamped"], "range": ["#1a1a1a", "#b3b3b3"]}, "legend": {"orient": "none", "legendX": 836, "legendY": 76, "title": null}},
               "order": {"value": null}}},
            {"mark": {"type": "text", "font": "Noto Sans CJK JP", "fontSize": 19, "baseline": "middle"},
             "encoding": {"x": {"datum": -0.68, "axis": null}, "y": {"datum": 0.059}, "text": {"value": "②"}}},
            {"mark": {"type": "text", "font": "Liberation Serif", "fontSize": 28, "align": "left", "baseline": "alphabetic"},
             "encoding": {"x": {"datum": 6.56, "axis": null}, "y": {"datum": 0.0655}, "text": {"value": "constructive, gT = 0.05"}}},
            {"mark": {"type": "rule", "color": "#333333", "strokeWidth": 1}, "encoding": {"x": {"datum": 18, "axis": null}}}
          ]
        },
        {
          "width": 472, "height": 96, "data": {"values": [{}]},
          "layer": [
            {"data": {"name": "b"}, "transform": [{"filter": "datum.s == 3"}],
             "mark": {"type": "line", "strokeWidth": 1.8, "interpolate": "monotone"},
             "encoding": {
               "x": {"field": "x", "type": "quantitative", "scale": {"domain": [-1.5, 18], "nice": false, "zero": false}, "axis": null},
               "y": {"field": "y", "type": "quantitative", "scale": {"domain": [-0.1439, 0.4755], "nice": false, "zero": false}, "axis": {"values": [0, 0.4], "format": ".2~g", "title": null}},
               "color": {"field": "c", "type": "nominal", "scale": {"domain": ["overdamped", "underdamped"], "range": ["#1a1a1a", "#b3b3b3"]}, "legend": {"orient": "none", "legendX": 836, "legendY": 76, "title": null}},
               "order": {"value": null}}},
            {"mark": {"type": "text", "font": "Noto Sans CJK JP", "fontSize": 19, "baseline": "middle"},
             "encoding": {"x": {"datum": -0.68, "axis": null}, "y": {"datum": 0.061}, "text": {"value": "③"}}},
            {"mark": {"type": "text", "font": "Liberation Serif", "fontSize": 28, "align": "left", "baseline": "alphabetic"},
             "encoding": {"x": {"datum": 6.56, "axis": null}, "y": {"datum": 0.071}, "text": {"value": "intermediate, gT = 0.05"}}},
            {"mark": {"type": "rule", "color": "#333333", "strokeWidth": 1}, "encoding": {"x": {"datum": 18, "axis": null}}}
          ]
        },
        {
          "width": 472, "height": 40, "data": {"values": [{}]},
          "layer": [
            {"data": {"name": "b"}, "transform": [{"filter": "datum.s == 4"}],
             "mark": {"type": "line", "strokeWidth": 1.8, "interpolate": "monotone"},
             "encoding": {
               "x": {"field": "x", "type": "quantitative", "scale": {"domain": [-1.5, 18], "nice": false, "zero": false}, "axis": null},
               "y": {"field": "y", "type": "quantitative", "scale": {"domain": [-0.0585, 0.16], "nice": false, "zero": false}, "axis": {"values": [0, 0.1], "format": ".2~g", "title": "vg g⁻¹ |ϕout(g[t + x/vg])|²", "titleX": -56, "titleY": -10}},
               "color": {"field": "c", "type": "nominal", "scale": {"domain": ["overdamped", "underdamped"], "range": ["#1a1a1a", "#b3b3b3"]}, "legend": {"orient": "none", "legendX": 836, "legendY": 76, "title": null}},
               "order": {"value": null}}},
            {"mark": {"type": "text", "font": "Noto Sans CJK JP", "fontSize": 19, "baseline": "middle"},
             "encoding": {"x": {"datum": -0.68, "axis": null}, "y": {"datum": 0.051}, "text": {"value": "④"}}},
            {"mark": {"type": "text", "font": "Liberation Serif", "fontSize": 28, "align": "left", "baseline": "alphabetic"},
             "encoding": {"x": {"datum": 6.56, "axis": null}, "y": {"datum": 0.0874}, "text": {"value": "destructive, gT = 0.05"}}},
            {"mark": {"type": "rule", "color": "#333333", "strokeWidth": 1}, "encoding": {"x": {"datum": 18, "axis": null}}}
          ]
        },
        {
          "width": 472, "height": 135, "data": {"values": [{}]},
          "layer": [
            {"data": {"name": "b"}, "transform": [{"filter": "datum.s == 5"}],
             "mark": {"type": "line", "strokeWidth": 1.8, "interpolate": "monotone"},
             "encoding": {
               "x": {"field": "x", "type": "quantitative", "scale": {"domain": [-1.5, 18], "nice": false, "zero": false}, "axis": null},
               "y": {"field": "y", "type": "quantitative", "scale": {"domain": [-0.0763, 0.8043], "nice": false, "zero": false}, "axis": {"values": [0, 0.7], "format": ".2~g", "title": null}},
               "color": {"field": "c", "type": "nominal", "scale": {"domain": ["overdamped", "underdamped"], "range": ["#1a1a1a", "#b3b3b3"]}, "legend": {"orient": "none", "legendX": 836, "legendY": 76, "title": null}},
               "order": {"value": null}}},
            {"mark": {"type": "text", "font": "Noto Sans CJK JP", "fontSize": 19, "baseline": "middle"},
             "encoding": {"x": {"datum": -0.68, "axis": null}, "y": {"datum": 0.065}, "text": {"value": "⑤"}}},
            {"mark": {"type": "text", "font": "Liberation Serif", "fontSize": 28, "align": "left", "baseline": "alphabetic"},
             "encoding": {"x": {"datum": 6.56, "axis": null}, "y": {"datum": 0.0652}, "text": {"value": "constructive, gT = 0.25"}}},
            {"mark": {"type": "rule", "color": "#333333", "strokeWidth": 1}, "encoding": {"x": {"datum": 18, "axis": null}}}
          ]
        },
        {
          "width": 472, "height": 85, "data": {"values": [{}]},
          "layer": [
            {"data": {"name": "b"}, "transform": [{"filter": "datum.s == 6"}],
             "mark": {"type": "line", "strokeWidth": 1.8, "interpolate": "monotone"},
             "encoding": {
               "x": {"field": "x", "type": "quantitative", "scale": {"domain": [-1.5, 18], "nice": false, "zero": false}, "axis": null},
               "y": {"field": "y", "type": "quantitative", "scale": {"domain": [-0.0569, 0.48], "nice": false, "zero": false}, "axis": {"values": [0, 0.4], "format": ".2~g", "title": null}},
               "color": {"field": "c", "type": "nominal", "scale": {"domain": ["overdamped", "underdamped"], "range": ["#1a1a1a", "#b3b3b3"]}, "legend": {"orient": "none", "legendX": 836, "legendY": 76, "title": null}},
               "order": {"value": null}}},
            {"mark": {"type": "text", "font": "Noto Sans CJK JP", "fontSize": 19, "baseline": "middle"},
             "encoding": {"x": {"datum": -0.68, "axis": null}, "y": {"datum": 0.059}, "text": {"value": "⑥"}}},
            {"mark": {"type": "text", "font": "Liberation Serif", "fontSize": 28, "align": "left", "baseline": "alphabetic"},
             "encoding": {"x": {"datum": 6.56, "axis": null}, "y": {"datum": 0.0903}, "text": {"value": "intermediate, gT = 0.25"}}},
            {"mark": {"type": "rule", "color": "#333333", "strokeWidth": 1}, "encoding": {"x": {"datum": 18, "axis": null}}}
          ]
        },
        {
          "width": 472, "height": 52, "data": {"values": [{}]},
          "layer": [
            {"data": {"name": "b"}, "transform": [{"filter": "datum.s == 7"}],
             "mark": {"type": "line", "strokeWidth": 1.8, "interpolate": "monotone"},
             "encoding": {
               "x": {"field": "x", "type": "quantitative", "scale": {"domain": [-1.5, 18], "nice": false, "zero": false},
                     "axis": {"values": [0, 5, 10, 15], "labelExpr": "'' + datum.value", "title": "g(t + x/vg)"}},
               "y": {"field": "y", "type": "quantitative", "scale": {"domain": [-0.0588, 0.2564], "nice": false, "zero": false}, "axis": {"values": [0, 0.2], "format": ".2~g", "title": null}},
               "color": {"field": "c", "type": "nominal", "scale": {"domain": ["overdamped", "underdamped"], "range": ["#1a1a1a", "#b3b3b3"]}, "legend": {"orient": "none", "legendX": 836, "legendY": 76, "title": null}},
               "order": {"value": null}}},
            {"mark": {"type": "text", "font": "Noto Sans CJK JP", "fontSize": 19, "baseline": "middle"},
             "encoding": {"x": {"datum": -0.68}, "y": {"datum": 0.058}, "text": {"value": "⑦"}}},
            {"mark": {"type": "text", "font": "Liberation Serif", "fontSize": 28, "align": "left", "baseline": "alphabetic"},
             "encoding": {"x": {"datum": 6.56}, "y": {"datum": 0.0945}, "text": {"value": "destructive, gT = 0.25"}}},
            {"mark": {"type": "rule", "color": "#333333", "strokeWidth": 1}, "encoding": {"x": {"datum": 18}}}
          ]
        }
      ]
    }
  ]
}
